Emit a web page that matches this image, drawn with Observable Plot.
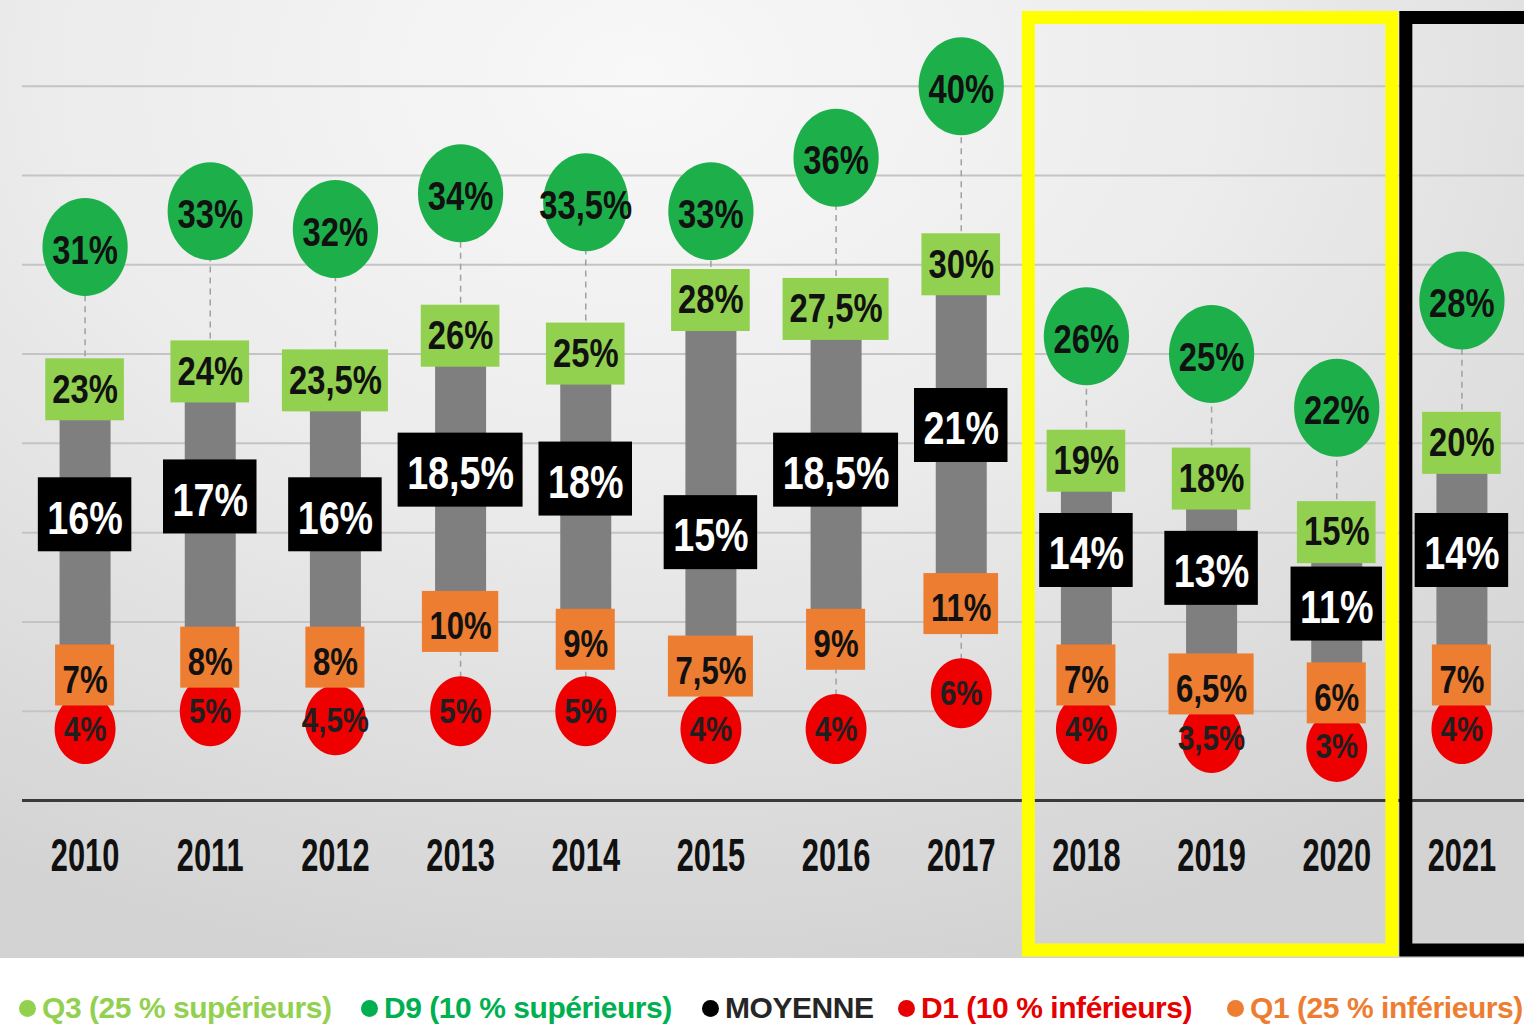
<!DOCTYPE html>
<html><head><meta charset="utf-8">
<script src="https://cdn.jsdelivr.net/npm/d3@7"></script>
<script src="https://cdn.jsdelivr.net/npm/@observablehq/plot@0.6"></script>
<style>
html,body{margin:0;padding:0;background:#fff;}
#chart{width:1524px;height:958px;}
#legend{position:relative;width:1524px;height:70px;overflow:hidden;background:#fff;
  font-family:"Liberation Sans",Arial,sans-serif;font-weight:bold;font-size:30px;letter-spacing:-0.45px;}
.item{position:absolute;top:0;height:100px;display:flex;align-items:center;white-space:nowrap;}
.dot{width:17px;height:17px;border-radius:50%;margin-right:6px;flex:none;}
</style></head><body>
<div id="chart"></div><div id="legend"></div>
<script>
// ---- data ----
const years = [2010, 2011, 2012, 2013, 2014, 2015, 2016, 2017, 2018, 2019, 2020, 2021];
const d9  = [31, 33, 32, 34, 33.5, 33, 36, 40, 26, 25, 22, 28];
const q3  = [23, 24, 23.5, 26, 25, 28, 27.5, 30, 19, 18, 15, 20];
const moy = [16, 17, 16, 18.5, 18, 15, 18.5, 21, 14, 13, 11, 14];
const q1  = [7, 8, 8, 10, 9, 7.5, 9, 11, 7, 6.5, 6, 7];
const d1  = [4, 5, 4.5, 5, 5, 4, 4, 6, 4, 3.5, 3, 4];
const gridValues = [5, 10, 15, 20, 25, 30, 35, 40];
const highlightYellow = [2018, 2020];
const highlightBlack = [2021, 2021];
const legendLabels = ["Q3 (25 % supérieurs)", "D9 (10 % supérieurs)", "MOYENNE", "D1 (10 % inférieurs)", "Q1 (25 % inférieurs)"];
const legendColors = ["#92d050", "#00b050", "#000000", "#e60000", "#ed7d31"];
const legendTextColors = ["#92d050", "#00b050", "#262626", "#e60000", "#ed7d31"];
const legendX = [19, 361, 702, 898, 1227];

// ---- build ----
const rows = years.map((year, i) => ({year, d9: d9[i], q3: q3[i], moy: moy[i], q1: q1[i], d1: d1[i]}));
const fmt = v => String(v).replace(".", ",") + "%";
const ellipse = {
  draw(ctx, size) {
    const r = Math.sqrt(size / Math.PI), rx = r * 0.87, ry = r, k = 0.5523;
    ctx.moveTo(rx, 0);
    ctx.bezierCurveTo(rx, k * ry, k * rx, ry, 0, ry);
    ctx.bezierCurveTo(-k * rx, ry, -rx, k * ry, -rx, 0);
    ctx.bezierCurveTo(-rx, -k * ry, -k * rx, -ry, 0, -ry);
    ctx.bezierCurveTo(k * rx, -ry, rx, -k * ry, rx, 0);
    ctx.closePath();
  }
};
const FONT = '"Liberation Sans",Arial,sans-serif';
const LABEL_KEYS = ["q1", "d1", "q3", "moy", "d9"];
const lbl = (key, opts) => Plot.text(rows, {x: "year", y: key, text: d => fmt(d[key]), fontFamily: FONT,
  fontWeight: "bold", lineAnchor: "middle", textAnchor: "middle", ariaDescription: key + "-label", ...opts});

const chart = Plot.plot({
  width: 1524, height: 958,
  marginTop: 0, marginBottom: 158, marginLeft: 22, marginRight: 0,
  style: {background: "radial-gradient(ellipse 85% 95% at 42% 8%, #f8f8f8 0%, #ececec 45%, #d3d3d3 100%)",
          fontFamily: FONT, overflow: "visible"},
  x: {type: "linear", domain: [2009.5, 2021.5]},
  y: {domain: [0, 44.8], axis: null},
  marks: [
    Plot.ruleY(gridValues, {stroke: "#c4c4c4", strokeWidth: 2}),
    Plot.ruleY([0], {stroke: "#3a3a3a", strokeWidth: 3}),
    Plot.ruleX(rows, {x: "year", y1: "q3", y2: "d9", stroke: "#a0a0a0", strokeWidth: 1.5, strokeDasharray: "6,5"}),
    Plot.ruleX(rows, {x: "year", y1: "d1", y2: "q1", stroke: "#a0a0a0", strokeWidth: 1.5, strokeDasharray: "6,5"}),
    Plot.ruleX(rows, {x: "year", y1: "q1", y2: "q3", stroke: "#7f7f7f", strokeWidth: 51}),
    Plot.dot(rows, {x: "year", y: "d9", r: 49, symbol: ellipse, fill: "#1db04a", stroke: "none"}),
    Plot.dot(rows, {x: "year", y: "d1", r: 35, symbol: ellipse, fill: "#ee0000", stroke: "none"}),
    lbl("q1", {fontSize: 38, fill: "#111", dy: 5}),
    lbl("d1", {fontSize: 36, fill: "#1f1f1f"}),
    lbl("q3", {fontSize: 40, fill: "#111"}),
    lbl("moy", {fontSize: 46, fill: "#ffffff", dy: 4}),
    lbl("d9", {fontSize: 40, fill: "#111", dy: 4}),
    Plot.rect([highlightYellow], {x1: d => d[0] - 0.5, x2: d => d[1] + 0.5, fill: "none", stroke: "#ffff00",
      strokeWidth: 13, insetLeft: 5, insetRight: 7, insetTop: 17.5, insetBottom: -150}),
    Plot.rect([highlightBlack], {x1: d => d[0] - 0.5, x2: d => d[1] + 1.5, fill: "none", stroke: "#000000",
      strokeWidth: 13, insetLeft: 7, insetRight: 0, insetTop: 17.5, insetBottom: -150}),
    Plot.axisX(years, {tickFormat: d => String(d), tickSize: 0, tickPadding: 38, fontSize: 46,
      fontWeight: "bold", fontFamily: FONT, fill: "#111", label: null})
  ]
});
document.getElementById("chart").appendChild(chart);

const ns = "http://www.w3.org/2000/svg";
const xs = chart.scale("x"), ys = chart.scale("y");
const LABEL_SCALE = 0.82, YEAR_SCALE = 0.67;

function condense(text, cx, s) {
  text.setAttribute("transform", `translate(${cx},0) scale(${s},1) translate(${-cx},0) ` + (text.getAttribute("transform") || ""));
}

// locate label groups
const textGroups = [...chart.querySelectorAll('g[aria-label="text"]')];
const groupOf = {};
LABEL_KEYS.forEach((k, i) => {
  groupOf[k] = chart.querySelector(`g[aria-description="${k}-label"]`) || textGroups[i];
});

// boxes behind value labels, sized from the rendered text
function addBoxes(key, fill, padX, h) {
  const g = groupOf[key];
  if (!g) return;
  const boxes = document.createElementNS(ns, "g");
  g.querySelectorAll("text").forEach((t, i) => {
    const bb = t.getBBox();
    const cx = xs.apply(rows[i].year), cy = ys.apply(rows[i][key]);
    const w = bb.width * LABEL_SCALE + 2 * padX;
    const r = document.createElementNS(ns, "rect");
    r.setAttribute("x", cx - w / 2); r.setAttribute("width", w);
    r.setAttribute("y", cy - h / 2); r.setAttribute("height", h);
    r.setAttribute("fill", fill);
    boxes.appendChild(r);
  });
  g.parentNode.insertBefore(boxes, g);
}
addBoxes("q1", "#ed7d31", 7, 61);
addBoxes("q3", "#92d050", 6.5, 62);
addBoxes("moy", "#000000", 9, 74);

LABEL_KEYS.forEach(k => {
  const g = groupOf[k];
  if (g) g.querySelectorAll("text").forEach((t, i) => condense(t, xs.apply(rows[i].year), LABEL_SCALE));
});
chart.querySelectorAll('g[aria-label="x-axis tick label"] text').forEach((t, i) => condense(t, xs.apply(years[i]), YEAR_SCALE));

// legend
const leg = document.getElementById("legend");
legendLabels.forEach((label, i) => {
  const it = document.createElement("div");
  it.className = "item";
  it.style.left = legendX[i] + "px";
  it.style.color = legendTextColors[i];
  const dot = document.createElement("span");
  dot.className = "dot"; dot.style.background = legendColors[i];
  const tx = document.createElement("span");
  tx.textContent = label;
  it.appendChild(dot); it.appendChild(tx);
  leg.appendChild(it);
});
</script>
</body></html>
